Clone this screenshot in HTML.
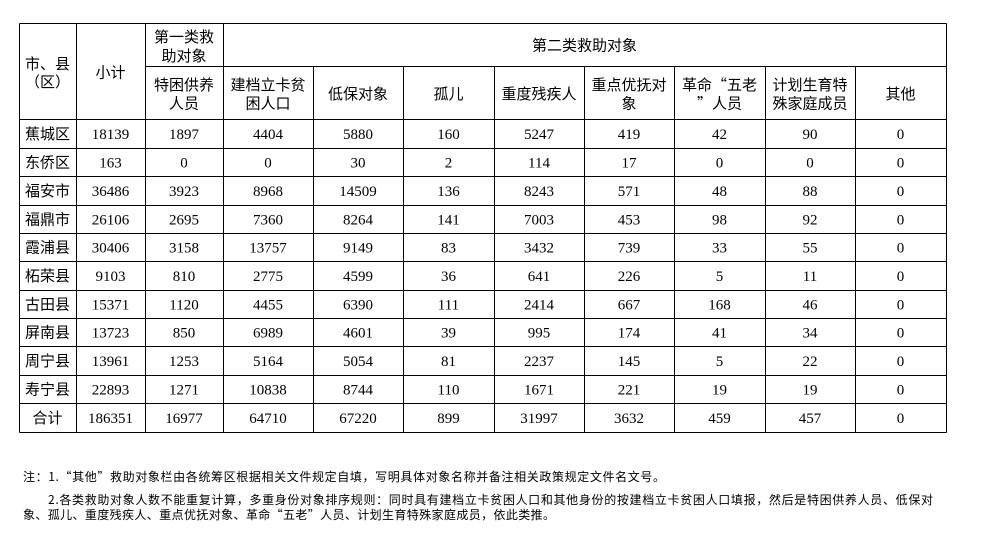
<!DOCTYPE html>
<html lang="zh-CN">
<head>
<meta charset="utf-8">
<style>
  html, body { margin: 0; padding: 0; background: #fff; }
  body { width: 997px; height: 554px; overflow: hidden; }
  svg { display: block; }
  .c { font-family: "Noto Sans CJK SC", "Liberation Sans", sans-serif; font-size: 15px; fill: #000; text-anchor: middle; }
  .n { font-family: "Liberation Serif", "Noto Sans CJK SC", serif; font-size: 15px; fill: #000; text-anchor: middle; }
  .note { font-family: "Noto Sans CJK SC", "Liberation Sans", sans-serif; font-size: 12px; fill: #000; }
</style>
</head>
<body>
<svg width="997" height="554" viewBox="0 0 997 554" xmlns="http://www.w3.org/2000/svg">
  <rect x="0" y="0" width="997" height="554" fill="#fff"/>
  <g stroke="#000" stroke-width="1" shape-rendering="crispEdges">
    <!-- outer border -->
    <line x1="19.5" y1="23.5" x2="946.5" y2="23.5"/>
    <line x1="19.5" y1="432.5" x2="946.5" y2="432.5"/>
    <line x1="19.5" y1="23.5" x2="19.5" y2="432.5"/>
    <line x1="946.5" y1="23.5" x2="946.5" y2="432.5"/>
    <!-- header subdivision -->
    <line x1="145.5" y1="66.5" x2="946.5" y2="66.5"/>
    <!-- full-height verticals -->
    <line x1="76.5" y1="23.5" x2="76.5" y2="432.5"/>
    <line x1="145.5" y1="23.5" x2="145.5" y2="432.5"/>
    <line x1="223.5" y1="23.5" x2="223.5" y2="432.5"/>
    <!-- second-level verticals -->
    <line x1="313.5" y1="66.5" x2="313.5" y2="432.5"/>
    <line x1="403.5" y1="66.5" x2="403.5" y2="432.5"/>
    <line x1="494.5" y1="66.5" x2="494.5" y2="432.5"/>
    <line x1="584.5" y1="66.5" x2="584.5" y2="432.5"/>
    <line x1="674.5" y1="66.5" x2="674.5" y2="432.5"/>
    <line x1="765.5" y1="66.5" x2="765.5" y2="432.5"/>
    <line x1="855.5" y1="66.5" x2="855.5" y2="432.5"/>
    <!-- row lines -->
    <line x1="19.5" y1="119.5" x2="946.5" y2="119.5"/>
    <line x1="19.5" y1="148.5" x2="946.5" y2="148.5"/>
    <line x1="19.5" y1="176.5" x2="946.5" y2="176.5"/>
    <line x1="19.5" y1="205.5" x2="946.5" y2="205.5"/>
    <line x1="19.5" y1="233.5" x2="946.5" y2="233.5"/>
    <line x1="19.5" y1="261.5" x2="946.5" y2="261.5"/>
    <line x1="19.5" y1="290.5" x2="946.5" y2="290.5"/>
    <line x1="19.5" y1="318.5" x2="946.5" y2="318.5"/>
    <line x1="19.5" y1="346.5" x2="946.5" y2="346.5"/>
    <line x1="19.5" y1="375.5" x2="946.5" y2="375.5"/>
    <line x1="19.5" y1="403.5" x2="946.5" y2="403.5"/>
  </g>

  <!-- header -->
  <text class="c" x="47.5" y="69">市、县</text>
  <text class="c" x="47.5" y="87">（区）</text>
  <text class="c" x="110.5" y="77.7">小计</text>
  <text class="c" x="184" y="42">第一类救</text>
  <text class="c" x="184" y="61.2">助对象</text>
  <text class="c" x="584.5" y="50.7">第二类救助对象</text>

  <text class="c" x="184" y="90">特困供养</text>
  <text class="c" x="184" y="108.7">人员</text>
  <text class="c" x="268" y="90">建档立卡贫</text>
  <text class="c" x="268" y="108.7">困人口</text>
  <text class="c" x="358" y="99">低保对象</text>
  <text class="c" x="448.5" y="99">孤儿</text>
  <text class="c" x="539" y="99">重度残疾人</text>
  <text class="c" x="629" y="90">重点优抚对</text>
  <text class="c" x="629" y="108.7">象</text>
  <text class="c" x="719.5" y="90">革命“五老</text>
  <text class="c" x="719.5" y="108.7">”人员</text>
  <text class="c" x="810" y="90">计划生育特</text>
  <text class="c" x="810" y="108.7">殊家庭成员</text>
  <text class="c" x="900.5" y="99">其他</text>

  <!-- row names -->
  <text class="c" x="47.5" y="139">蕉城区</text>
  <text class="c" x="47.5" y="167.5">东侨区</text>
  <text class="c" x="47.5" y="196">福安市</text>
  <text class="c" x="47.5" y="224.5">福鼎市</text>
  <text class="c" x="47.5" y="252.5">霞浦县</text>
  <text class="c" x="47.5" y="281">柘荣县</text>
  <text class="c" x="47.5" y="309.5">古田县</text>
  <text class="c" x="47.5" y="337.5">屏南县</text>
  <text class="c" x="47.5" y="366">周宁县</text>
  <text class="c" x="47.5" y="394.5">寿宁县</text>
  <text class="c" x="47.5" y="423">合计</text>

  <!-- data -->
  <g class="n">
    <!-- 蕉城区 -->
    <text x="110.5" y="139">18139</text><text x="184" y="139">1897</text><text x="268" y="139">4404</text><text x="358" y="139">5880</text><text x="448.5" y="139">160</text><text x="539" y="139">5247</text><text x="629" y="139">419</text><text x="719.5" y="139">42</text><text x="810" y="139">90</text><text x="900.5" y="139">0</text>
    <!-- 东侨区 -->
    <text x="110.5" y="167.5">163</text><text x="184" y="167.5">0</text><text x="268" y="167.5">0</text><text x="358" y="167.5">30</text><text x="448.5" y="167.5">2</text><text x="539" y="167.5">114</text><text x="629" y="167.5">17</text><text x="719.5" y="167.5">0</text><text x="810" y="167.5">0</text><text x="900.5" y="167.5">0</text>
    <!-- 福安市 -->
    <text x="110.5" y="196">36486</text><text x="184" y="196">3923</text><text x="268" y="196">8968</text><text x="358" y="196">14509</text><text x="448.5" y="196">136</text><text x="539" y="196">8243</text><text x="629" y="196">571</text><text x="719.5" y="196">48</text><text x="810" y="196">88</text><text x="900.5" y="196">0</text>
    <!-- 福鼎市 -->
    <text x="110.5" y="224.5">26106</text><text x="184" y="224.5">2695</text><text x="268" y="224.5">7360</text><text x="358" y="224.5">8264</text><text x="448.5" y="224.5">141</text><text x="539" y="224.5">7003</text><text x="629" y="224.5">453</text><text x="719.5" y="224.5">98</text><text x="810" y="224.5">92</text><text x="900.5" y="224.5">0</text>
    <!-- 霞浦县 -->
    <text x="110.5" y="252.5">30406</text><text x="184" y="252.5">3158</text><text x="268" y="252.5">13757</text><text x="358" y="252.5">9149</text><text x="448.5" y="252.5">83</text><text x="539" y="252.5">3432</text><text x="629" y="252.5">739</text><text x="719.5" y="252.5">33</text><text x="810" y="252.5">55</text><text x="900.5" y="252.5">0</text>
    <!-- 柘荣县 -->
    <text x="110.5" y="281">9103</text><text x="184" y="281">810</text><text x="268" y="281">2775</text><text x="358" y="281">4599</text><text x="448.5" y="281">36</text><text x="539" y="281">641</text><text x="629" y="281">226</text><text x="719.5" y="281">5</text><text x="810" y="281">11</text><text x="900.5" y="281">0</text>
    <!-- 古田县 -->
    <text x="110.5" y="309.5">15371</text><text x="184" y="309.5">1120</text><text x="268" y="309.5">4455</text><text x="358" y="309.5">6390</text><text x="448.5" y="309.5">111</text><text x="539" y="309.5">2414</text><text x="629" y="309.5">667</text><text x="719.5" y="309.5">168</text><text x="810" y="309.5">46</text><text x="900.5" y="309.5">0</text>
    <!-- 屏南县 -->
    <text x="110.5" y="337.5">13723</text><text x="184" y="337.5">850</text><text x="268" y="337.5">6989</text><text x="358" y="337.5">4601</text><text x="448.5" y="337.5">39</text><text x="539" y="337.5">995</text><text x="629" y="337.5">174</text><text x="719.5" y="337.5">41</text><text x="810" y="337.5">34</text><text x="900.5" y="337.5">0</text>
    <!-- 周宁县 -->
    <text x="110.5" y="366">13961</text><text x="184" y="366">1253</text><text x="268" y="366">5164</text><text x="358" y="366">5054</text><text x="448.5" y="366">81</text><text x="539" y="366">2237</text><text x="629" y="366">145</text><text x="719.5" y="366">5</text><text x="810" y="366">22</text><text x="900.5" y="366">0</text>
    <!-- 寿宁县 -->
    <text x="110.5" y="394.5">22893</text><text x="184" y="394.5">1271</text><text x="268" y="394.5">10838</text><text x="358" y="394.5">8744</text><text x="448.5" y="394.5">110</text><text x="539" y="394.5">1671</text><text x="629" y="394.5">221</text><text x="719.5" y="394.5">19</text><text x="810" y="394.5">19</text><text x="900.5" y="394.5">0</text>
    <!-- 合计 -->
    <text x="110.5" y="423">186351</text><text x="184" y="423">16977</text><text x="268" y="423">64710</text><text x="358" y="423">67220</text><text x="448.5" y="423">899</text><text x="539" y="423">31997</text><text x="629" y="423">3632</text><text x="719.5" y="423">459</text><text x="810" y="423">457</text><text x="900.5" y="423">0</text>
  </g>

  <!-- notes -->
  <text class="note" x="23" y="481" textLength="642" lengthAdjust="spacing">注：1.“其他”救助对象栏由各统筹区根据相关文件规定自填，写明具体对象名称并备注相关政策规定文件名文号。</text>
  <text class="note" x="48" y="504" textLength="885" lengthAdjust="spacing">2.各类救助对象人数不能重复计算，多重身份对象排序规则：同时具有建档立卡贫困人口和其他身份的按建档立卡贫困人口填报，然后是特困供养人员、低保对</text>
  <text class="note" x="23" y="519" textLength="532" lengthAdjust="spacing">象、孤儿、重度残疾人、重点优抚对象、革命“五老”人员、计划生育特殊家庭成员，依此类推。</text>
</svg>
</body>
</html>
